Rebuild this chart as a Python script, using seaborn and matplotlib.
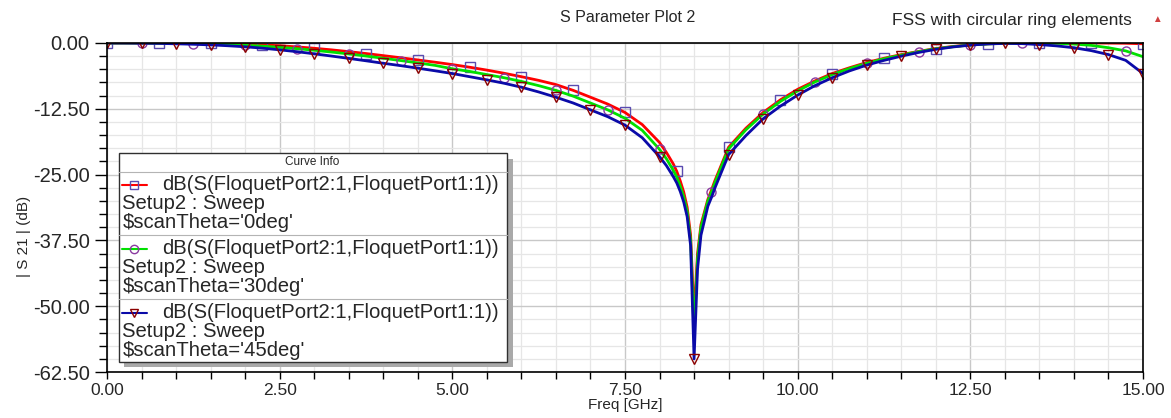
import numpy as np
import pandas as pd
import seaborn as sns
import matplotlib
matplotlib.use("Agg")
import matplotlib.pyplot as plt
from matplotlib.ticker import MultipleLocator, FormatStrFormatter
from matplotlib.patches import Rectangle
from matplotlib.lines import Line2D

# ---------------- data ----------------
freq_ghz = [0.00, 0.25, 0.50, 0.75, 1.00, 1.25, 1.50, 1.75, 2.00, 2.25, 2.50, 2.75,
            3.00, 3.25, 3.50, 3.75, 4.00, 4.25, 4.50, 4.75, 5.00, 5.25, 5.50, 5.75,
            6.00, 6.25, 6.50, 6.75, 7.00, 7.25, 7.50, 7.75, 8.00, 8.10, 8.20, 8.25,
            8.30, 8.35, 8.40, 8.45, 8.50, 8.55, 8.60, 8.70, 8.75, 8.80, 9.00, 9.25,
            9.50, 9.75, 10.00, 10.25, 10.50, 10.75, 11.00, 11.25, 11.50, 11.75, 12.00,
            12.25, 12.50, 12.75, 13.00, 13.25, 13.50, 13.75, 14.00, 14.25, 14.50,
            14.75, 15.00]

s21_theta0 = [0.00, 0.00, 0.00, -0.01, -0.02, -0.04, -0.08, -0.14, -0.22, -0.35, -0.52, -0.74,
              -1.00, -1.30, -1.64, -2.00, -2.40, -2.80, -3.22, -3.65, -4.10, -4.60, -5.15, -5.75,
              -6.40, -7.10, -7.90, -9.00, -10.30, -11.60, -13.20, -15.50, -18.90, -20.80, -23.00, -24.40,
              -26.20, -28.30, -31.20, -36.50, -52.00, -40.00, -34.50, -29.70, -28.00, -26.20, -19.80, -16.20,
              -13.20, -10.80, -8.80, -7.20, -5.80, -4.70, -3.70, -2.90, -2.20, -1.60, -1.05,
              -0.65, -0.35, -0.15, -0.05, -0.01, 0.00, 0.00, 0.00, 0.00, -0.02,
              -0.05, -0.15]

s21_theta30 = [0.00, 0.00, -0.01, -0.03, -0.06, -0.11, -0.18, -0.28, -0.42, -0.60, -0.82, -1.08,
               -1.38, -1.72, -2.08, -2.48, -2.90, -3.33, -3.78, -4.25, -4.90, -5.40, -6.00, -6.60,
               -7.30, -8.10, -9.00, -10.10, -11.40, -12.70, -14.30, -16.60, -20.20, -22.00, -24.20, -25.50,
               -27.20, -29.20, -32.00, -37.50, -55.00, -41.00, -35.00, -30.00, -28.40, -26.60, -20.10, -16.50,
               -13.50, -11.10, -9.10, -7.40, -6.00, -4.85, -3.85, -3.00, -2.30, -1.65, -1.10,
               -0.70, -0.38, -0.17, -0.06, -0.02, 0.00, -0.05, -0.20, -0.45, -0.90,
               -1.50, -2.60]

s21_theta45 = [0.00, -0.01, -0.04, -0.08, -0.15, -0.24, -0.36, -0.52, -0.72, -0.98, -1.30, -1.65,
               -2.05, -2.48, -2.92, -3.38, -3.85, -4.30, -4.78, -5.28, -5.80, -6.40, -7.00, -7.65,
               -8.40, -9.30, -10.30, -11.40, -12.70, -14.00, -15.60, -18.00, -21.60, -23.30, -25.40, -26.60,
               -28.20, -30.20, -33.00, -38.50, -60.00, -43.00, -36.50, -31.00, -29.40, -27.60, -21.20, -17.60,
               -14.40, -12.00, -9.90, -8.10, -6.60, -5.30, -4.20, -3.30, -2.50, -1.80, -1.20,
               -0.75, -0.40, -0.18, -0.08, -0.12, -0.30, -0.55, -0.90, -1.45, -2.20,
               -3.30, -5.80]

trace_label = "dB(S(FloquetPort2:1,FloquetPort1:1))"
setup_label = "Setup2 : Sweep"
theta_labels = ["$scanTheta='0deg'", "$scanTheta='30deg'", "$scanTheta='45deg'"]
x_ticks = [0.0, 2.5, 5.0, 7.5, 10.0, 12.5, 15.0]
y_ticks = [0.0, -12.5, -25.0, -37.5, -50.0, -62.5]

# ---------------- styling ----------------
sns.set_theme(style="white")
plt.rcParams['font.family'] = ['Liberation Sans', 'DejaVu Sans']
plt.rcParams['axes.unicode_minus'] = False

W, H = 1171, 418
fig = plt.figure(figsize=(W / 100, H / 100), dpi=100)
fig.patch.set_facecolor("white")
ax = fig.add_axes([107 / W, 1 - 372 / H, (1143 - 107) / W, (372 - 43) / H])

freq = np.array(freq_ghz)
df = pd.DataFrame({"freq": freq, "t0": s21_theta0, "t30": s21_theta30, "t45": s21_theta45})

tri_idx = [i for i, f in enumerate(freq) if abs(f * 2 - round(f * 2)) < 1e-9]
sq_idx = [i for i, f in enumerate(freq) if abs(f / 0.75 - round(f / 0.75)) < 1e-9]
ci_idx = [i for i, f in enumerate(freq) if abs((f - 0.5) / 0.75 - round((f - 0.5) / 0.75)) < 1e-9]

series = [
    ("t0", "#ff0000", "s", "#5a4bb0", sq_idx),
    ("t30", "#00e000", "o", "#8a3aa0", ci_idx),
    ("t45", "#0a0aa8", "v", "#8b0000", tri_idx),
]
for col, color, mk, mkc, idx in series:
    sns.lineplot(data=df, x="freq", y=col, ax=ax, color=color, lw=2.0,
                 marker=mk, markevery=idx, markersize=6.5, markerfacecolor="none",
                 markeredgecolor=mkc, markeredgewidth=1.0, sort=False, estimator=None)

ax.set_xlim(0, 15)
ax.set_ylim(-62.5, 0)
ax.set_xticks(x_ticks)
ax.set_yticks(y_ticks)
ax.xaxis.set_minor_locator(MultipleLocator(0.5))
ax.yaxis.set_minor_locator(MultipleLocator(2.5))
ax.xaxis.set_major_formatter(FormatStrFormatter("%.2f"))
ax.yaxis.set_major_formatter(FormatStrFormatter("%.2f"))
ax.grid(which="major", color="#c8c8c8", lw=1.0)
ax.grid(which="minor", color="#e6e6e6", lw=0.9)
ax.set_axisbelow(True)
for sp in ax.spines.values():
    sp.set_color("black")
    sp.set_linewidth(1.2)
ax.tick_params(axis="both", which="both", direction="out", color="black",
               bottom=True, left=True, top=False, right=False)
ax.tick_params(axis="y", which="major", length=8.6, width=1, labelsize=14.5, pad=4)
ax.tick_params(axis="y", which="minor", length=5.8, width=1)
ax.tick_params(axis="x", which="major", length=5, width=1, labelsize=12.5, pad=3)
ax.tick_params(axis="x", which="minor", length=5, width=1)
ax.set_xlabel("Freq [GHz]", fontsize=11, labelpad=0)
ax.set_ylabel("| S 21 | (dB)", fontsize=11)
ax.yaxis.set_label_coords(-0.073, 0.413)

# ---------------- titles ----------------
fig.text(628 / W, 1 - 18 / H, "S Parameter Plot 2", ha="center", va="center", fontsize=11.5)
fig.text(1132 / W, 1 - 20 / H, "FSS with circular ring elements", ha="right", va="center", fontsize=12.5)
fig.text(1157 / W, 1 - 19 / H, "\u25B2", ha="center", va="center", fontsize=7, color="#d04040")

# ---------------- legend ("Curve Info" box) ----------------
def F(x, y):
    return (x / W, 1 - y / H)

fig.add_artist(Rectangle(F(124, 367), 389 / W, 208 / H, transform=fig.transFigure,
                         facecolor="#a9a9a9", edgecolor="none", zorder=5))
fig.add_artist(Rectangle(F(118.5, 361.5), 388 / W, 208 / H, transform=fig.transFigure,
                         facecolor="white", edgecolor="#303030", lw=1.0, zorder=6))
fig.text(*F(312, 162), "Curve Info", ha="center", va="center", fontsize=8.5, zorder=7)
for ysep in [171.5, 235, 299]:
    fig.add_artist(Line2D([118.5 / W, 506.5 / W], [1 - ysep / H] * 2, transform=fig.transFigure,
                          color="#b4b4b4", lw=0.8, zorder=7))

entry_y = [185, 249, 313]
for (col, color, mk, mkc, idx), y0, tl in zip(series, entry_y, theta_labels):
    fig.add_artist(Line2D([121.5 / W, 146.5 / W], [1 - y0 / H] * 2, transform=fig.transFigure,
                          color=color, lw=1.5, zorder=7))
    fig.add_artist(Line2D([134 / W], [1 - y0 / H], transform=fig.transFigure, marker=mk,
                          markersize=6, markerfacecolor="none", markeredgecolor=mkc,
                          markeredgewidth=1.0, zorder=8))
    fig.text(*F(162.5, y0), trace_label, ha="left", va="center", fontsize=14.6, zorder=8,
             parse_math=False)
    fig.text(*F(122.5, y0 + 18.5), setup_label, ha="left", va="center", fontsize=14.6, zorder=8,
             parse_math=False)
    fig.text(*F(122.5, y0 + 37), tl, ha="left", va="center", fontsize=14.6, zorder=8,
             parse_math=False)

fig.savefig("out.png", dpi=100)
